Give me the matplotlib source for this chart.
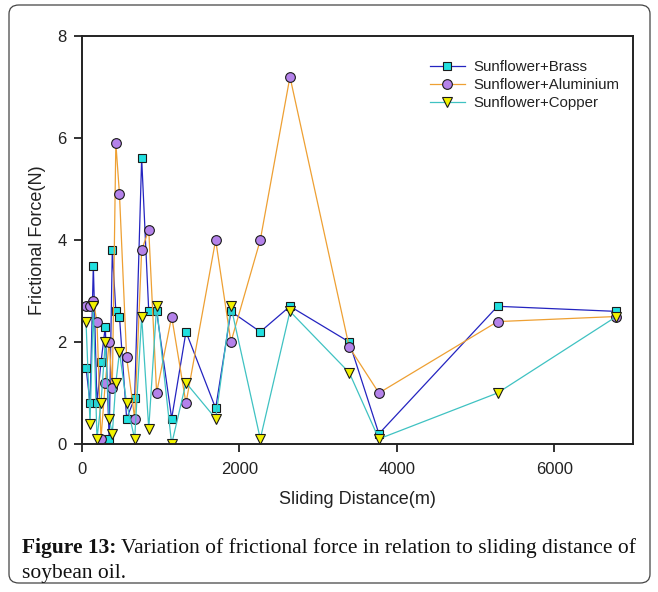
import matplotlib
matplotlib.use("Agg")
import matplotlib.pyplot as plt
from matplotlib.patches import FancyBboxPatch

plt.rcParams["font.family"] = ["Liberation Sans", "DejaVu Sans"]

# sliding distance (m) and frictional force (N)
distance = [51, 102, 144, 190, 241, 296, 345, 385, 430, 476, 567, 669, 758,
            848, 948, 1139, 1321, 1698, 1892, 2265, 2642, 3395, 3772, 5279, 6790]
brass = [1.5, 0.8, 3.5, 0.8, 1.6, 2.3, 0.1, 3.8, 2.6, 2.5, 0.5, 0.9, 5.6,
         2.6, 2.6, 0.5, 2.2, 0.7, 2.6, 2.2, 2.7, 2.0, 0.2, 2.7, 2.6]
aluminium = [2.7, 2.7, 2.8, 2.4, 0.1, 1.2, 2.0, 1.1, 5.9, 4.9, 1.7, 0.5, 3.8,
             4.2, 1.0, 2.5, 0.8, 4.0, 2.0, 4.0, 7.2, 1.9, 1.0, 2.4, 2.5]
copper = [2.4, 0.4, 2.7, 0.1, 0.8, 2.0, 0.5, 0.2, 1.2, 1.8, 0.8, 0.1, 2.5,
          0.3, 2.7, 0.0, 1.2, 0.5, 2.7, 0.1, 2.6, 1.4, 0.1, 1.0, 2.5]
labels = ["Sunflower+Brass", "Sunflower+Aluminium", "Sunflower+Copper"]

W, H = 658, 592
fig = plt.figure(figsize=(W / 100, H / 100), dpi=100)
fig.patch.set_facecolor("white")

# rounded frame around the whole figure
frame = FancyBboxPatch((9 / W, 9 / H), 641 / W, 578 / H,
                       boxstyle="round,pad=0,rounding_size=0.015",
                       transform=fig.transFigure, fill=False,
                       edgecolor="#444444", linewidth=0.9)
fig.patches.append(frame)

ax = fig.add_axes([82 / W, 1 - 444 / H, (633 - 82) / W, (444 - 36) / H])

ax.plot(distance, brass, "-s", color="#2424c0", lw=0.9, ms=6.2,
        mfc="#22e0e0", mec="#1a1a1a", mew=0.8, label=labels[0])
ax.plot(distance, aluminium, "-o", color="#eea033", lw=0.9, ms=7,
        mfc="#b482ea", mec="#1a1a1a", mew=0.8, label=labels[1])
ax.plot(distance, copper, "-v", color="#3fc2c2", lw=0.9, ms=7,
        mfc="#f2f200", mec="#1a1a1a", mew=0.8, label=labels[2])

ax.set_xlim(0, 7000)
ax.set_ylim(0, 8)
ax.set_xticks([0, 2000, 4000, 6000])
ax.set_yticks([0, 2, 4, 6, 8])
ax.tick_params(direction="out", length=6, width=1.3, labelsize=12,
               colors="#222222")
ax.tick_params(axis="x", pad=7)
ax.tick_params(axis="y", pad=5)
for s in ax.spines.values():
    s.set_linewidth(1.4)
    s.set_color("#222222")

ax.set_xlabel("Sliding Distance(m)", fontsize=13, color="#222222", labelpad=10)
ax.set_ylabel("Frictional Force(N)", fontsize=13, color="#222222", labelpad=8)

ax.legend(loc="upper left", bbox_to_anchor=(430 / W, 1 - 60 / H),
          bbox_transform=fig.transFigure, frameon=False, fontsize=10.8,
          handlelength=2.3, handletextpad=0.6, labelspacing=0.28,
          borderpad=0, borderaxespad=0, labelcolor="#222222")

# caption
cap_font = "Liberation Serif"
t1 = fig.text(22 / W, 1 - 553 / H, "Figure 13:", fontsize=15.5,
              fontweight="bold", family=cap_font, va="baseline", color="#111111")
fig.canvas.draw()
bb = t1.get_window_extent()
fig.text(bb.x1 / W + 5 / W, 1 - 553 / H,
         "Variation of frictional force in relation to sliding distance of",
         fontsize=15.5, family=cap_font, va="baseline", color="#111111")
fig.text(22 / W, 1 - 578 / H, "soybean oil.", fontsize=15.5, family=cap_font,
         va="baseline", color="#111111")

fig.savefig("out.png", dpi=100)
